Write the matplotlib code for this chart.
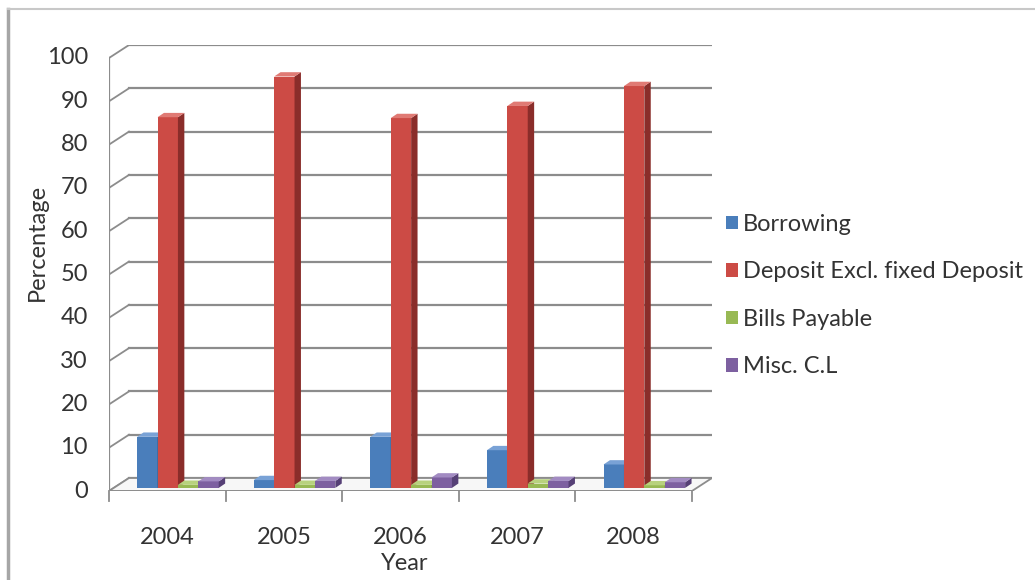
import numpy as np
import matplotlib.pyplot as plt
from matplotlib.patches import Polygon, Patch
from matplotlib.lines import Line2D

plt.rcParams['font.family'] = ['Lato', 'DejaVu Sans']

# datos
years = ['2004', '2005', '2006', '2007', '2008']
borrowing = [11.8, 1.8, 11.8, 8.7, 5.4]
deposit = [85.6, 95.0, 85.4, 88.2, 92.8]
bills = [0.7, 0.7, 0.7, 1.0, 0.6]
misc = [1.5, 1.6, 2.4, 1.6, 1.3]
series_names = ['Borrowing', 'Deposit Excl. fixed Deposit', 'Bills Payable', 'Misc. C.L']

front = ['#4A7EBB', '#CC4B45', '#98B954', '#7D60A0']
side = ['#345B8A', '#8A2D2A', '#6E8A38', '#564076']
top = ['#79A2D6', '#E07A74', '#B8D27E', '#A28BC2']

W, H = 1035, 580
fig = plt.figure(figsize=(W / 100, H / 100), dpi=100)

# profundidad del efecto 3D (en unidades de datos)
dx, dy = 0.1715, 3.0
x0, x1 = -0.5, 4.5
ax = fig.add_axes([109 / W, (H - 491) / H, 603 / W, 446 / H])
ax.set_xlim(x0, x1 + dx)
ax.set_ylim(0, 100 + dy)
ax.axis('off')

grid_c = '#8C8C8C'
# pared del fondo y rejilla
for v in range(0, 101, 10):
    ax.plot([x0 + dx, x1 + dx], [v + dy, v + dy], color=grid_c, lw=1.6, zorder=1)
    ax.plot([x0, x0 + dx], [v, v + dy], color=grid_c, lw=1.3, zorder=1)
    ax.plot([x0 - 0.05, x0], [v, v], color=grid_c, lw=1.3, zorder=1)
    ax.text(x0 - 0.18, v, str(v), ha='right', va='center', fontsize=17, color='#333333')
ax.plot([x0, x0], [0, 100], color=grid_c, lw=1.6, zorder=1)

# suelo
suelo = Polygon([[x0, 0], [x1, 0], [x1 + dx, dy], [x0 + dx, dy]], closed=True,
                facecolor='#F7F7F7', edgecolor=grid_c, lw=1.3, zorder=1.5)
ax.add_patch(suelo)
ax.plot([x0, x1], [0, 0], color=grid_c, lw=1.8, zorder=1.6)
for k in range(6):
    ax.plot([x0 + k, x0 + k], [0, -2.2], color=grid_c, lw=1.3, clip_on=False)
for i, y in enumerate(years):
    ax.text(i, -10.8, y, ha='center', va='center', fontsize=17, color='#333333')

# barras
w = 0.175
f = 0.24
ox, oy = f * dx, f * dy
bx, by = 0.055, 1.0
series = [borrowing, deposit, bills, misc]
z = 2
for i in range(len(years)):
    for s, vals in enumerate(series):
        left = i - 0.30 + s * w
        v = vals[i]
        ax.bar(left + ox, v, width=w, bottom=oy, align='edge', color=front[s],
               lw=0, zorder=z)
        L, R, B, T = left + ox, left + ox + w, oy, oy + v
        ax.add_patch(Polygon([[R, B], [R + bx, B + by], [R + bx, T + by], [R, T]],
                             closed=True, facecolor=side[s], lw=0, zorder=z))
        ax.add_patch(Polygon([[L, T], [R, T], [R + bx, T + by], [L + bx, T + by]],
                             closed=True, facecolor=top[s], lw=0, zorder=z))
        z += 0.01

fig.text(37 / W, 1 - 242 / H, 'Percentage', rotation=90, ha='center', va='center',
         fontsize=17, color='#333333')
fig.text(405 / W, 1 - 563 / H, 'Year', ha='center', va='center', fontsize=17,
         color='#333333')

handles = [Patch(facecolor=c, edgecolor='none') for c in front]
fig.legend(handles, series_names, loc='upper left', bbox_to_anchor=(726 / W, 1 - 214 / H),
           frameon=False, fontsize=17, handlelength=0.5, handleheight=0.5,
           handletextpad=0.2, labelspacing=1.12, borderpad=0, borderaxespad=0,
           labelcolor='#333333')

# marco exterior
fig.add_artist(Line2D([8 / W, 8 / W], [0, 1 - 9 / H], color='#A6A6A6', lw=2.5))
fig.add_artist(Line2D([8 / W, 1], [1 - 9 / H, 1 - 9 / H], color='#C8C8C8', lw=1.5))

fig.savefig('out.png', dpi=100)
